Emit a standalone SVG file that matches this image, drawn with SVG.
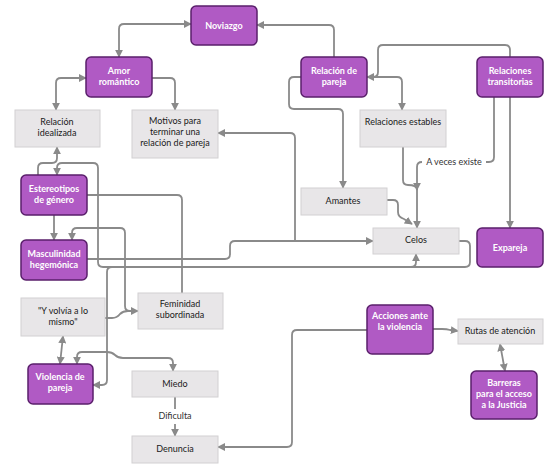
<svg xmlns="http://www.w3.org/2000/svg" width="550" height="475" viewBox="0 0 550 475">
<defs>
<marker id="ah" viewBox="0 0 10 10" refX="9" refY="5" markerWidth="8" markerHeight="8" markerUnits="userSpaceOnUse" orient="auto-start-reverse">
<path d="M0,0 L10,5 L0,10 z" fill="#8a8a8a"/>
</marker>
<style>
.p rect{fill:#b05ac4;stroke:#5a1f6b;stroke-width:1.5}
.g rect{fill:#e8e6e8;stroke:#d2d0d2;stroke-width:1}
.p text{fill:#fff;font-family:Lato,"Open Sans",sans-serif;font-size:9px;font-weight:bold;text-anchor:middle}
.g text{fill:#1a1a1a;font-family:Lato,"Open Sans",sans-serif;font-size:9px;text-anchor:middle}
.c path{fill:none;stroke:#8a8a8a;stroke-width:1.8}
.e{marker-end:url(#ah)}
.b{marker-start:url(#ah);marker-end:url(#ah)}
.lbl{fill:#333;font-family:Lato,"Open Sans",sans-serif;font-size:9px;text-anchor:middle}
</style>
</defs>
<rect width="550" height="475" fill="#fff"/>
<g id="connectors" class="c">
<path class="b" d="M119,57 V29 Q119,24 124,24 H191"/>
<path class="e" d="M334,57 V30 Q334,25 329,25 H257"/>
<path class="b" d="M86,78 H61 Q56,78 56,83 V110"/>
<path class="e" d="M152,78 H170 Q175,78 175,83 V110"/>
<path class="e" d="M510,57 V50 Q510,45 505,45 H383 Q378,45 378,50 V72 Q378,77 373,77 H367"/>
<path class="e" d="M372,77 H397 Q402,77 402,82 V110"/>
<path class="e" d="M301,77 H294 Q289,77 289,82 V104 Q289,109 294,109 H338 Q343,109 343,114 V188"/>
<path class="e" d="M295,241 V138 Q295,133 290,133 H218"/>
<path class="e" d="M87,259 H225 Q230,259 230,254 V246 Q230,241 235,241 H373"/>
<path d="M87,195 H177 Q182,195 182,200 V293"/>
<path class="e" d="M54,215 V240"/>
<path class="e" d="M38,175 V168 Q38,163 43,163 H52 Q57,163 57,158 V147"/>
<path class="e" d="M459,241 H465 Q470,241 470,246 V262 Q470,267 465,267 H103 Q98,267 98,262 V168 Q98,163 93,163 H62 Q57,163 57,168 V175"/>
<path class="e" d="M400,267 H411 Q416,267 416,262 V254"/>
<path class="e" d="M112,267 Q107,267 107,272 V380 Q107,385 102,385 H93"/>
<path class="e" d="M107,352 H82 Q77,352 77,357 V364"/>
<path class="e" d="M107,352 Q112,352 115,355 Q118,358 123,358 H168 Q173,358 173,363 V371"/>
<path class="e" d="M138,311 H130 Q125,311 125,306 V233 Q125,228 120,228 H77 Q72,228 72,233 V240"/>
<path class="e" d="M105,318 H112 Q117,318 120,314 Q123,311 128,311 H138"/>
<path class="b" d="M63,336 L60,364"/>
<path d="M175,397 V409"/>
<path class="e" d="M175,424 V436"/>
<path class="e" d="M367,330 H297 Q292,330 292,335 V442 Q292,447 287,447 H218"/>
<path class="e" d="M433,329 H442 Q447,329 450,330 L458,331"/>
<path class="b" d="M500,344 L505,371"/>
<path class="e" d="M510,97 V228"/>
<path d="M494,97 V157 Q494,162 489,162 H486"/>
<path class="e" d="M422,162 Q417,162 417,167 V228"/>
<path class="e" d="M403,147 V180 Q403,185 408,185 Q417,185 417,190"/>
<path class="e" d="M387,200 H393 Q398,200 398,205 V212 Q398,217 404,219 L412,224"/>
<text class="lbl" x="454" y="165">A veces  existe</text>
<text class="lbl" x="175" y="419">Dificulta</text>
</g>
<g id="noviazgo" class="p"><rect x="191" y="6" width="66" height="39" rx="5"/><text x="224" y="29">Noviazgo</text></g>
<g id="amor" class="p"><rect x="86" y="57" width="66" height="40" rx="5"/><text x="119" y="74">Amor</text><text x="119" y="85">romántico</text></g>
<g id="relpareja" class="p"><rect x="301" y="57" width="66" height="40" rx="5"/><text x="334" y="74">Relación de</text><text x="334" y="85">pareja</text></g>
<g id="transitorias" class="p"><rect x="477" y="57" width="66" height="40" rx="5"/><text x="510" y="74">Relaciones</text><text x="510" y="85">transitorias</text></g>
<g id="estereotipos" class="p"><rect x="21" y="175" width="66" height="40" rx="5"/><text x="54" y="192">Estereotipos</text><text x="54" y="203">de género</text></g>
<g id="masculinidad" class="p"><rect x="21" y="240" width="66" height="40" rx="5"/><text x="54" y="257">Masculinidad</text><text x="54" y="268">hegemónica</text></g>
<g id="violencia" class="p"><rect x="28" y="364" width="65" height="40" rx="5"/><text x="60" y="380">Violencia de</text><text x="60" y="391">pareja</text></g>
<g id="expareja" class="p"><rect x="477" y="228" width="66" height="39" rx="5"/><text x="510" y="251">Expareja</text></g>
<g id="acciones" class="p"><rect x="367" y="305" width="66" height="49" rx="5"/><text x="400" y="319">Acciones ante</text><text x="400" y="330">la violencia</text></g>
<g id="barreras" class="p"><rect x="471" y="371" width="66" height="48" rx="5"/><text x="504" y="386">Barreras</text><text x="504" y="397">para  el acceso</text><text x="504" y="408">a la Justicia</text></g>
<g id="idealizada" class="g"><rect x="15" y="110" width="85" height="37"/><text x="57" y="125">Relación</text><text x="57" y="136">idealizada</text></g>
<g id="motivos" class="g"><rect x="132" y="110" width="86" height="48"/><text x="175" y="124">Motivos para</text><text x="175" y="135">terminar  una</text><text x="175" y="146">relación de pareja</text></g>
<g id="estables" class="g"><rect x="360" y="110" width="86" height="37"/><text x="403" y="125">Relaciones estables</text></g>
<g id="amantes" class="g"><rect x="301" y="188" width="86" height="27"/><text x="343" y="204">Amantes</text></g>
<g id="celos" class="g"><rect x="373" y="228" width="86" height="26"/><text x="416" y="243">Celos</text></g>
<g id="volvia" class="g"><rect x="21" y="298" width="84" height="38"/><text x="63" y="314">"Y  volvía a lo</text><text x="63" y="325">mismo"</text></g>
<g id="feminidad" class="g"><rect x="138" y="293" width="85" height="36"/><text x="180" y="307">Feminidad</text><text x="180" y="318">subordinada</text></g>
<g id="miedo" class="g"><rect x="132" y="371" width="86" height="26"/><text x="175" y="387">Miedo</text></g>
<g id="denuncia" class="g"><rect x="132" y="436" width="86" height="27"/><text x="175" y="452">Denuncia</text></g>
<g id="rutas" class="g"><rect x="458" y="319" width="85" height="25"/><text x="500" y="334">Rutas de atención</text></g>
</svg>
